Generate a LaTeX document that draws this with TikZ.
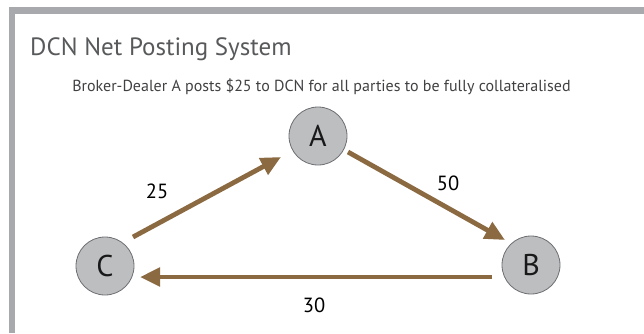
\documentclass[tikz,border=0pt]{standalone}
\usepackage{fontspec}
\setmainfont{PT Sans}
\usetikzlibrary{arrows.meta,calc}
\definecolor{framegray}{HTML}{A7A9AC}
\definecolor{titlegray}{HTML}{58595B}
\definecolor{subgray}{HTML}{414042}
\definecolor{nodefill}{HTML}{BCBEC0}
\definecolor{nodeline}{HTML}{6D6E71}
\definecolor{arrbrown}{HTML}{8B6A42}
\tikzset{
  party/.style={circle, draw=nodeline, line width=0.8pt, fill=nodefill, minimum size=58pt, inner sep=0pt, font=\fontsize{30}{30}\selectfont, text=black!90},
  flow/.style={draw=arrbrown, line width=4.8pt, -{Triangle[length=20pt,width=18pt]}},
  amount/.style={font=\fontsize{20.5}{20.5}\selectfont, text=black},
}
\begin{document}
\begin{tikzpicture}[x=1pt,y=-1pt]
\useasboundingbox (0,0) rectangle (644,333);
\fill[framegray] (8.5,7) rectangle (644,13.5);
\fill[framegray] (8.5,7) rectangle (15,333);
\node[anchor=base west, inner sep=0pt, text=titlegray, font=\fontsize{25}{25}\selectfont] (title) at (30,55) {DCN Net Posting System};
\node[anchor=base, inner sep=0pt, text=subgray, font=\fontsize{16}{16}\selectfont] (sub) at (321.5,91) {Broker-Dealer A posts \$25 to DCN for all parties to be fully collateralised};
\node[party] (A) at (318,136) {A};
\node[party] (B) at (531,265) {B};
\node[party] (C) at (105,266) {C};
\draw[flow] ($(C)+(28,-29)$) -- ($(A)+(-37,21)$);
\draw[flow] ($(A)+(30,16)$) -- ($(B)+(-26,-25)$);
\draw[flow] ($(B)+(-39,12)$) -- ($(C)+(35,11)$);
\node[amount] (l25) at (157,191) {25};
\node[amount] (l50) at (448,183) {50};
\node[amount] (l30) at (314,305) {30};
\end{tikzpicture}
\end{document}
